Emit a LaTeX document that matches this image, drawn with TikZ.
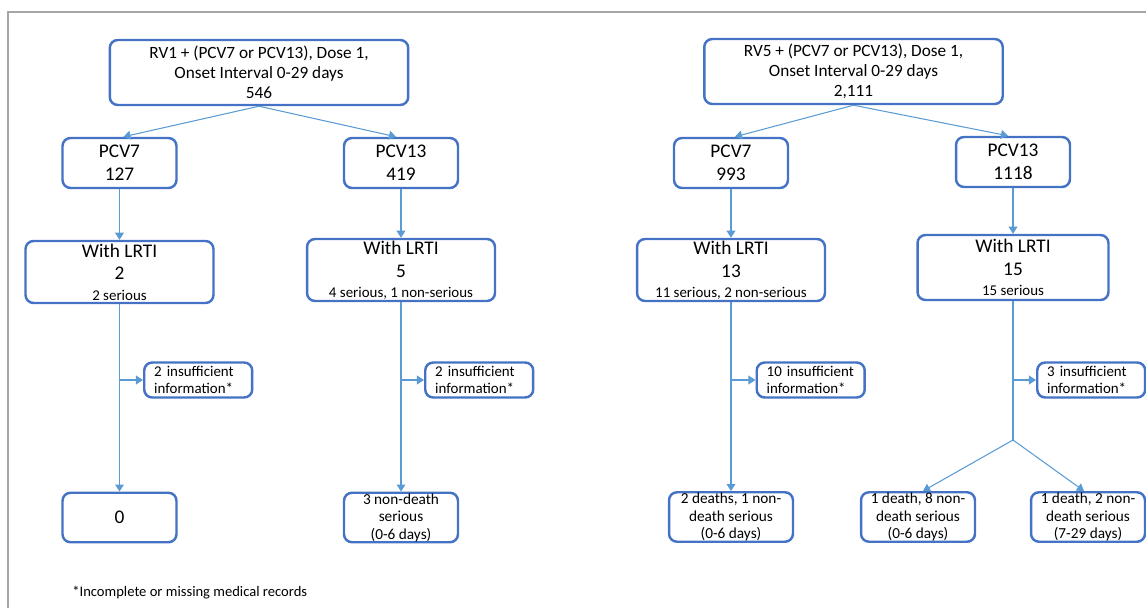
\documentclass[tikz,border=0pt]{standalone}
\usepackage{fontspec}
\setmainfont{Carlito}
\usepackage{tikz}
\usetikzlibrary{positioning,arrows.meta}

\definecolor{boxblue}{HTML}{4472C4}
\definecolor{lineblue}{HTML}{5B9BD5}
\definecolor{framegray}{HTML}{A6A6A6}
\hyphenpenalty=10000

\begin{document}
\begin{tikzpicture}[
        x=0.02cm, y=-0.02cm,
        box/.style = {rectangle, draw=boxblue, line width=1.4pt, rounded corners=0.16cm, align=center, inner sep=0pt},
        headbox/.style = {box, minimum width=5.97cm, minimum height=1.3cm, font=\fontsize{9.8}{11.4}\selectfont},
        vacbox/.style = {box, minimum width=2.28cm, minimum height=1cm, font=\fontsize{11}{13}\selectfont},
        lrtibox/.style = {box, minimum width=3.76cm, minimum height=1.24cm, font=\fontsize{11}{13}\selectfont},
        infobox/.style = {box, align=left, text width=1.76cm, inner xsep=0.2cm, minimum height=0.7cm, font=\fontsize{8.5}{9.7}\selectfont},
        outbox/.style = {box, minimum width=2.28cm, minimum height=0.99cm, font=\fontsize{8.7}{10}\selectfont},
        note/.style = {font=\fontsize{8.3}{10}\selectfont, inner sep=0pt},
        link/.style = {draw=lineblue, line width=0.6pt, -{Triangle[length=4pt,width=5pt]}} % thin connectors
    ]
        \useasboundingbox (0,0) rectangle (1146,608);
        % Frame
        \draw[framegray, line width=1.2pt] (8,608) -- (8,12) -- (1146,12);

        % Nodes, RV1 tree
        \node [headbox] (rv1) at (259,72.5) {RV1 + (PCV7 or PCV13), Dose 1,\\Onset Interval 0-29 days\\546};
        \node [vacbox] (pcv7a) at (119.5,163) {PCV7\\127};
        \node [vacbox] (pcv13a) at (401,163) {PCV13\\419};
        \node [lrtibox] (lrti7a) at (119.5,272) {With LRTI\\2\\[-1.5pt]{\fontsize{8.5}{9}\selectfont 2 serious}};
        \node [lrtibox] (lrti13a) at (401,270) {With LRTI\\5\\[-1.5pt]{\fontsize{8.5}{9}\selectfont 4 serious, 1 non-serious}};
        \node [infobox, anchor=west] (info7a) at (143,380) {2 insufficient\\information*};
        \node [infobox, anchor=west] (info13a) at (424,380) {2 insufficient\\information*};
        \node [outbox, font=\fontsize{11}{13}\selectfont] (out7a) at (119.5,517.5) {0};
        \node [outbox] (out13a) at (401,517.5) {3 non-death\\serious\\(0-6 days)};

        % Nodes, RV5 tree
        \node [headbox] (rv5) at (853.5,71.5) {RV5 + (PCV7 or PCV13), Dose 1,\\Onset Interval 0-29 days\\2,111};
        \node [vacbox] (pcv7b) at (731,163) {PCV7\\993};
        \node [vacbox] (pcv13b) at (1013,162) {PCV13\\1118};
        \node [lrtibox] (lrti7b) at (731,270) {With LRTI\\13\\[-1.5pt]{\fontsize{8.5}{9}\selectfont 11 serious, 2 non-serious}};
        \node [lrtibox, minimum width=3.82cm, minimum height=1.3cm] (lrti13b) at (1013,267.5) {With LRTI\\15\\[-1.5pt]{\fontsize{8.5}{9}\selectfont 15 serious}};
        \node [infobox, anchor=west] (info7b) at (755.5,380) {10 insufficient\\information*};
        \node [infobox, anchor=west] (info13b) at (1036,380) {3 insufficient\\information*};
        \node [outbox, minimum width=2.48cm] (out7b) at (731,517) {2 deaths, 1 non-\\death serious\\(0-6 days)};
        \coordinate (split) at (1013,440);
        \node [outbox] (out13b1) at (918,517) {1 death, 8 non-\\death serious\\(0-6 days)};
        \node [outbox] (out13b2) at (1088,517) {1 death, 2 non-\\death serious\\(7-29 days)};

        % Footnote
        \node [note, anchor=west] (foot) at (72,593) {*Incomplete or missing medical records};

        % Lines
        \draw [link] (rv1.south) -- ([xshift=0.08cm]pcv7a.north);
        \draw [link] (rv1.south) -- ([xshift=-0.1cm]pcv13a.north);
        \draw [link] (pcv7a) -- (lrti7a);
        \draw [link] (pcv13a) -- (lrti13a);
        \draw [link] (lrti7a) -- (out7a);
        \draw [link] (lrti13a) -- (out13a);
        \draw [link] (lrti7a.south |- info7a.west) -- (info7a.west);
        \draw [link] (lrti13a.south |- info13a.west) -- (info13a.west);

        \draw [link] (rv5.south) -- ([xshift=0.08cm]pcv7b.north);
        \draw [link] (rv5.south) -- ([xshift=-0.1cm]pcv13b.north);
        \draw [link] (pcv7b) -- (lrti7b);
        \draw [link] (pcv13b) -- (lrti13b);
        \draw [link] (lrti7b) -- (out7b);
        \draw [draw=lineblue, line width=0.6pt] (lrti13b.south) -- (split);
        \draw [link] (split) -- ([xshift=0.1cm]out13b1.north);
        \draw [link] (split) -- ([xshift=-0.08cm]out13b2.north);
        \draw [link] (lrti7b.south |- info7b.west) -- (info7b.west);
        \draw [link] (lrti13b.south |- info13b.west) -- (info13b.west);
\end{tikzpicture}
\end{document}
